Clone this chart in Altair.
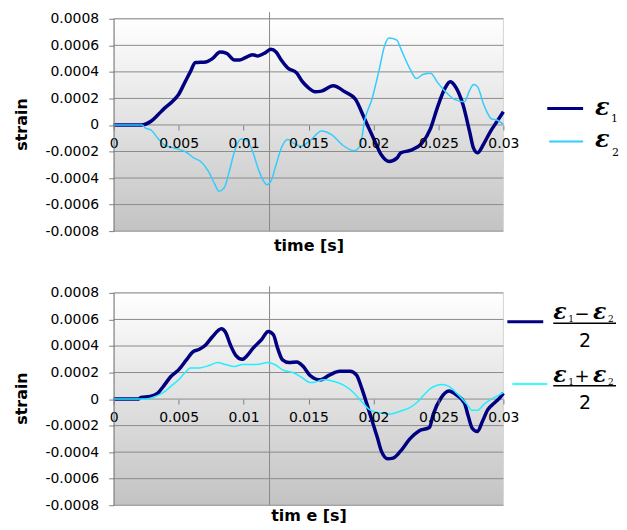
import altair as alt
import pandas as pd

# ---------------- data ----------------
# top panel: epsilon_1 (dark) and epsilon_2 (light)
t_e1 = [0.0, 0.0021, 0.0029, 0.0034, 0.0039, 0.0045, 0.0050, 0.0055, 0.0059, 0.0063,
        0.0071, 0.0076, 0.0082, 0.0087, 0.0093, 0.0097, 0.0101, 0.0107, 0.0111, 0.0116,
        0.0121, 0.0125, 0.0129, 0.0134, 0.0141, 0.0145, 0.0150, 0.0155, 0.0160, 0.0169,
        0.0178, 0.0186, 0.0193, 0.0200, 0.0206, 0.0212, 0.0218, 0.0221, 0.0229, 0.0237,
        0.0244, 0.0249, 0.0255, 0.0259, 0.0263, 0.0269, 0.0274, 0.0277, 0.0280, 0.0285,
        0.0290, 0.0295, 0.0300]
v_e1 = [0.0, 0.0, 0.00003, 0.000075, 0.000125, 0.000175, 0.00023, 0.000325, 0.0004, 0.00047,
        0.000475, 0.0005, 0.00055, 0.00054, 0.00049, 0.00049, 0.000505, 0.00053, 0.00052, 0.00054,
        0.00057, 0.00055, 0.00049, 0.00043, 0.00039, 0.00033, 0.00028, 0.00025, 0.000255, 0.000295,
        0.00025, 0.000195, 0.00005, -0.0001, -0.000225, -0.000275, -0.00025, -0.00021, -0.00019, -0.00014,
        -0.000025, 0.000125, 0.000275, 0.000325, 0.00029, 0.00015, -0.00005, -0.000175, -0.00021, -0.00014,
        -0.00005, 0.000025, 0.0001]

t_e2 = [0.0, 0.0022, 0.0024, 0.0029, 0.0034, 0.0039, 0.0047, 0.0055, 0.0062, 0.0067,
        0.0073, 0.0078, 0.0081, 0.0085, 0.0089, 0.0093, 0.0098, 0.0102, 0.0107, 0.0112,
        0.0118, 0.0121, 0.0125, 0.0129, 0.0134, 0.0139, 0.0144, 0.0151, 0.0160, 0.0168,
        0.0176, 0.0185, 0.0190, 0.0193, 0.0199, 0.0204, 0.0209, 0.0212, 0.0218, 0.0221,
        0.0228, 0.0233, 0.0238, 0.0244, 0.0249, 0.0255, 0.0262, 0.0270, 0.0274, 0.0277,
        0.0280, 0.0285, 0.0291, 0.0295, 0.0300]
v_e2 = [0.0, 0.0, -0.00002, -0.00004, -0.0001, -0.00015, -0.000175, -0.0002, -0.00025, -0.000275,
        -0.00035, -0.00045, -0.0005, -0.000475, -0.00035, -0.0002, -0.000105, -0.00011, -0.0002, -0.00035,
        -0.00045, -0.000425, -0.0003, -0.000175, -0.00011, -0.00014, -0.00016, -0.00012, -0.000045, -0.000075,
        -0.00015, -0.000195, -0.00015, 0.000025, 0.0002, 0.0004, 0.00061, 0.000655, 0.00064, 0.000575,
        0.000425, 0.00035, 0.00038, 0.00039, 0.000325, 0.000255, 0.000195, 0.000175, 0.00026, 0.000305,
        0.00029, 0.00015, 0.000045, 0.0000375, 0.000005]

# bottom panel: (e1 - e2)/2 (dark) and (e1 + e2)/2 (cyan)
t_dif = [0.0, 0.0019, 0.0021, 0.0028, 0.0034, 0.0039, 0.0044, 0.0050, 0.0056, 0.0061,
         0.0066, 0.0071, 0.0076, 0.0083, 0.0086, 0.0090, 0.0094, 0.0099, 0.0103, 0.0107,
         0.0114, 0.0119, 0.0123, 0.0126, 0.0130, 0.0135, 0.0141, 0.0146, 0.0151, 0.0159,
         0.0166, 0.0174, 0.0182, 0.0187, 0.0191, 0.0195, 0.0199, 0.0203, 0.0206, 0.0211,
         0.0215, 0.0221, 0.0228, 0.0235, 0.0243, 0.0246, 0.0252, 0.0258, 0.0264, 0.0270,
         0.0273, 0.0276, 0.0280, 0.0284, 0.0288, 0.0293, 0.0297, 0.0300]
v_dif = [0.0, 0.0, 0.0000125, 0.00002, 0.000045, 0.000105, 0.00017, 0.00022, 0.000295, 0.000355,
         0.000375, 0.00041, 0.00047, 0.00053, 0.000505, 0.000405, 0.00033, 0.0003, 0.00033, 0.00038,
         0.00045, 0.00051, 0.000485, 0.00039, 0.000295, 0.000275, 0.00028, 0.000245, 0.00018, 0.000145,
         0.00018, 0.00021, 0.00021, 0.00018, 0.00008, -0.00004, -0.000165, -0.00029, -0.00039, -0.00045,
         -0.000445, -0.00039, -0.0003, -0.00024, -0.000215, -0.000115, 0.0000075, 0.00006, 0.00003, -0.00003,
         -0.00013, -0.00022, -0.000245, -0.000165, -0.00008, -0.00003, 0.0000075, 0.000045]

t_sum = [0.0, 0.0025, 0.0030, 0.0035, 0.0040, 0.0045, 0.0050, 0.0056, 0.0059, 0.0066,
         0.0074, 0.0080, 0.0086, 0.0093, 0.0099, 0.0110, 0.0119, 0.0125, 0.0130, 0.0138,
         0.0146, 0.0151, 0.0154, 0.0161, 0.0169, 0.0177, 0.0184, 0.0191, 0.0197, 0.0205,
         0.0213, 0.0221, 0.0228, 0.0233, 0.0239, 0.0244, 0.0253, 0.0258, 0.0264, 0.0272,
         0.0276, 0.0280, 0.0285, 0.0292, 0.0297, 0.0300]
v_sum = [0.0, 0.0, 0.0000125, 0.000032, 0.000062, 0.000105, 0.000145, 0.00021, 0.000235, 0.000235,
         0.000255, 0.000275, 0.00026, 0.000245, 0.00026, 0.00026, 0.000275, 0.000255, 0.00022, 0.0002,
         0.000155, 0.000125, 0.000125, 0.000145, 0.000135, 0.000105, 0.000055, -0.00002, -0.00008, -0.000105,
         -0.000112, -0.00009, -0.000065, -0.00003, 0.000032, 0.00008, 0.00011, 0.000095, 0.000045, -0.00004,
         -0.000085, -0.000085, -0.00004, 0.0000075, 0.000032, 0.00005]

Y_TICKS = [-0.0008, -0.0006, -0.0004, -0.0002, 0.0, 0.0002, 0.0004, 0.0006, 0.0008]
X_TICKS = [0.0, 0.005, 0.01, 0.015, 0.02, 0.025, 0.03]
MARKER_T = 0.012
MARKER_TOP = 0.00085

# ---------------- styling ----------------
W, H = 391, 213
FONT = "DejaVu Sans"
NAVY = "#000080"
SKY = "#33ccff"
CYAN = "#22eeff"
GRID = "#8c8c8c"

xscale = alt.Scale(domain=[X_TICKS[0], X_TICKS[-1]], nice=False, zero=False)
yscale = alt.Scale(domain=[Y_TICKS[0], Y_TICKS[-1]], nice=False, zero=False)

grad = alt.LinearGradient(
    gradient="linear",
    stops=[alt.GradientStop(color="#ffffff", offset=0),
           alt.GradientStop(color="#c3c3c3", offset=1)],
    x1=0, x2=0, y1=0, y2=1)

dummy = pd.DataFrame({"k": [0]})


def leg_rule(x1, x2, y, color, width):
    return alt.Chart(dummy).mark_rule(color=color, strokeWidth=width).encode(
        x=alt.value(x1), x2=alt.value(x2), y=alt.value(y))


def leg_text(txt, x, y, font="DejaVu Serif", size=24, style="italic", weight="bold",
             align="left", baseline="alphabetic"):
    return alt.Chart(dummy).mark_text(
        text=txt, font=font, fontSize=size, fontStyle=style, fontWeight=weight,
        align=align, baseline=baseline, color="black").encode(
        x=alt.value(x), y=alt.value(y))


def line(ts, vs, color, width):
    df = pd.DataFrame({"t": ts, "v": vs})
    return alt.Chart(df).mark_line(color=color, strokeWidth=width, interpolate="monotone").encode(
        x=alt.X("t:Q", scale=xscale, axis=None),
        y=alt.Y("v:Q", scale=yscale, axis=None))


def panel(series, legend, xtitle, title_y):
    frame = pd.DataFrame({"x0": [X_TICKS[0]], "x1": [X_TICKS[-1]],
                          "y0": [Y_TICKS[0]], "y1": [Y_TICKS[-1]]})
    bg = alt.Chart(frame).mark_rect(fill=grad, stroke="#d4d4d4", strokeWidth=1).encode(
        x=alt.X("x0:Q", scale=xscale, axis=alt.Axis(
            values=X_TICKS, title=xtitle, offset=-H / 2, grid=False, domain=False, zindex=1,
            ticks=True, tickSize=5, tickColor="#808080",
            labelFont=FONT, labelFontSize=14, labelColor="black", labelPadding=7,
            labelFlush=False, labelOverlap=False, labelExpr="datum.value + ''",
            titleFont=FONT, titleFontSize=16, titleFontWeight="bold", titleColor="black",
            titleY=title_y, titleBaseline="middle")),
        x2="x1",
        y=alt.Y("y0:Q", scale=yscale, axis=alt.Axis(
            values=Y_TICKS, title="strain", grid=False, domain=True, domainColor="#808080",
            zindex=1, tickSize=5, tickColor="#808080",
            labelFont=FONT, labelFontSize=14, labelColor="black", labelPadding=10,
            labelFlush=False, labelOverlap=False,
            labelExpr="datum.value == 0 ? '0' : (datum.value < 0 ? '-' : '') + format(abs(datum.value), '.4f')",
            titleFont=FONT, titleFontSize=16, titleFontWeight="bold", titleColor="black",
            titleX=-92, titleY=H / 2 - 1, titleBaseline="middle", titleAlign="center")),
        y2="y1")
    grid = alt.Chart(pd.DataFrame({"y": Y_TICKS})).mark_rule(color=GRID, strokeWidth=1).encode(
        y=alt.Y("y:Q", scale=yscale, axis=None))
    vline = alt.Chart(pd.DataFrame({"t": [MARKER_T], "a": [Y_TICKS[0]], "b": [MARKER_TOP]})).mark_rule(
        color="#8a8a8a", strokeWidth=1).encode(
        x=alt.X("t:Q", scale=xscale, axis=None),
        y=alt.Y("a:Q", scale=yscale, axis=None), y2="b")
    return alt.layer(bg, grid, vline, *series, *legend).resolve_axis(
        x="independent", y="independent").properties(width=W, height=H)


top_legend = [
    leg_rule(435, 471, 90, NAVY, 3),
    leg_text("ε", 483, 97),
    leg_text("1", 499, 104, font="DejaVu Serif", size=11, style="normal", weight="normal"),
    leg_rule(437, 471, 123, SKY, 2),
    leg_text("ε", 483, 129),
    leg_text("2", 500, 138, font="DejaVu Serif", size=11, style="normal", weight="normal"),
]

def fraction(dy, sign):
    return [
        leg_text("ε", 441, 26.5 + dy, size=22),
        leg_text("1", 456, 29.5 + dy, size=9, style="normal", weight="normal"),
        leg_text(sign, 470, 27 + dy, font=FONT, size=18, style="normal", weight="normal", align="center"),
        leg_text("ε", 481, 26.5 + dy, size=22),
        leg_text("2", 496, 29.5 + dy, size=9, style="normal", weight="normal"),
        leg_rule(441, 504, 30.5 + dy, "black", 1.5),
        leg_text("2", 473, 54 + dy, font=FONT, size=19, style="normal", weight="normal", align="center"),
    ]

bottom_legend = [leg_rule(395, 431, 29, NAVY, 3)] + fraction(0, "−") + \
                [leg_rule(400, 435, 91.3, "#33ffff", 2)] + fraction(62.7, "+")

top = panel([line(t_e1, v_e1, NAVY, 3.5), line(t_e2, v_e2, SKY, 1.5)], top_legend, "time [s]", 121)
bottom = panel([line(t_dif, v_dif, NAVY, 3.5), line(t_sum, v_sum, CYAN, 1.5)], bottom_legend,
               "tim e [s]", 117)

chart = alt.vconcat(top, bottom, spacing=31).properties(
    padding={"left": 5, "top": 2, "right": 0, "bottom": 0}
).configure_view(stroke=None)

chart.save("out.html", embed_options={"renderer": "svg", "actions": False})
